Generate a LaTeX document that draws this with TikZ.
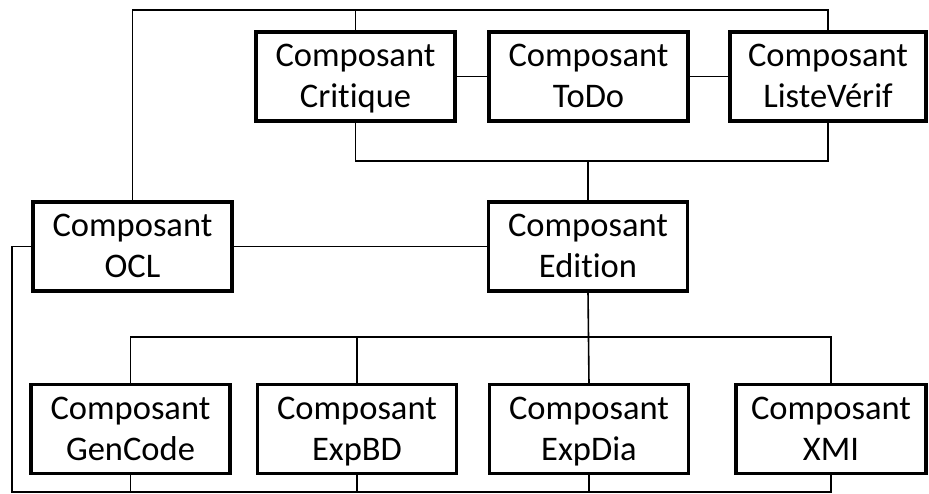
\documentclass[tikz,border=0pt]{standalone}
\usepackage{fontspec}
\setmainfont{Carlito}[Ligatures={NoCommon,NoContextual}]
\newcommand{\twoline}[2]{\rule{0pt}{31.5pt}#1\\#2\rule[-9.5pt]{0pt}{9.5pt}}
\begin{document}
\begin{tikzpicture}[x=1pt,y=-1pt,
  box/.style={draw=black, line width=3.6pt, fill=white, minimum width=199pt, minimum height=89pt,
    align=center, inner sep=0pt, outer sep=0pt, font=\fontsize{34.5}{41}\selectfont},
  conn/.style={draw=black, line width=1.6pt}]
\useasboundingbox (0,0) rectangle (929,494);
% nodes
\node[box] (crit) at (355.5,76.5) {\twoline{Composant}{Critique}};
\node[box] (todo) at (588.5,76.5) {\twoline{Composant}{ToDo}};
\node[box, minimum width=196pt] (lv) at (828,76.5) {\twoline{Composant}{ListeVérif}};
\node[box] (ocl) at (132.5,246.5) {\twoline{Composant}{OCL}};
\node[box] (edit) at (588,246.5) {\twoline{Composant}{Edition}};
\node[box] (gen) at (130.5,429) {\twoline{Composant}{GenCode}};
\node[box] (expbd) at (357,429) {\twoline{Composant}{ExpBD}};
\node[box] (expdia) at (589,429) {\twoline{Composant}{ExpDia}};
\node[box, minimum width=190pt] (xmi) at (831,429) {\twoline{Composant}{XMI}};
% helper coordinates
\coordinate (top) at (0,10);
\coordinate (mid) at (0,161);
\coordinate (bus) at (0,337);
\coordinate (bot) at (0,492);
\coordinate (left) at (12,0);
% connectors
\draw[conn] (ocl.north) |- (lv.north |- top) -- (lv.north);
\draw[conn] (crit.north) -- (crit.north |- top);
\draw[conn] (crit.east) -- (todo.west);
\draw[conn] (todo.east) -- (lv.west);
\draw[conn] (crit.south) |- (lv.south |- mid) -- (lv.south);
\draw[conn] (edit.north) -- (edit.north |- mid);
\draw[conn] (ocl.east) -- (edit.west);
\draw[conn] (gen.north) |- (xmi.north |- bus) -- (xmi.north);
\draw[conn] (edit.south) -- (expdia.north);
\draw[conn] (expbd.north) -- (expbd.north |- bus);
\draw[conn] (ocl.west) -- (ocl.west -| left) |- (xmi.south |- bot) -- (xmi.south);
\draw[conn] (gen.south) -- (gen.south |- bot);
\draw[conn] (expbd.south) -- (expbd.south |- bot);
\draw[conn] (expdia.south) -- (expdia.south |- bot);
\end{tikzpicture}
\end{document}
